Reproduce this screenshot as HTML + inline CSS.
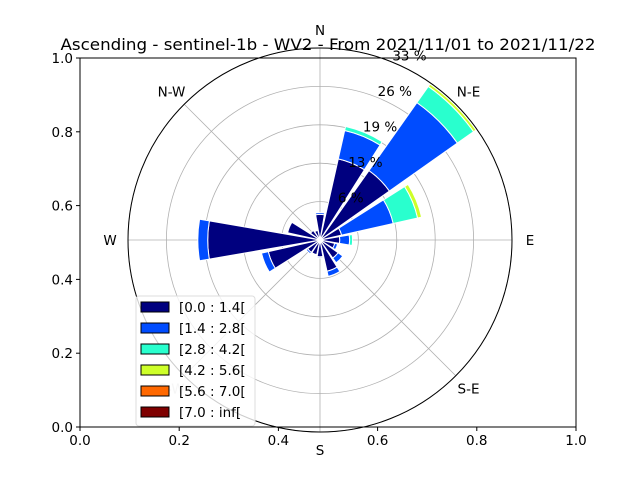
<!DOCTYPE html>
<html><head><meta charset="utf-8"><style>
body{margin:0;background:#fff}
svg{display:block;font-family:"DejaVu Sans","Liberation Sans",sans-serif}
</style></head><body>
<svg id="c" width="640" height="480" viewBox="0 0 640 480">
<rect width="640" height="480" fill="#fff"/>
<g id="polar"></g>
<g id="bars"></g>
<g id="labels"></g>
<g id="frame"></g>
<text x="328" y="50" font-size="16.2" text-anchor="middle" textLength="535" lengthAdjust="spacingAndGlyphs">Ascending - sentinel-1b - WV2 - From 2021/11/01 to 2021/11/22</text>
<g id="legend"></g>
</svg>
<script>
const directions = ["N","NNE","NE","ENE","E","ESE","SE","SSE","S","SSW","SW","WSW","W","WNW","NW","NNW"];
const bin0 = [4.4,14.3,14.6,3.8,3.4,2.6,3.8,5.5,2.9,2.6,2.6,9.1,19.3,5.7,2.0,1.7];
const bin1 = [0.3,5.0,14.3,9.1,1.7,0.5,1.0,0.9,0.2,0.1,0.3,1.2,1.7,0,0,0];
const bin2 = [0,0.7,3.4,4.3,0.5,0,0,0,0,0,0,0,0,0,0,0];
const bin3 = [0,0,0.5,0.7,0,0,0,0,0,0,0,0,0,0,0,0];
const bin4 = [0,0,0,0,0,0,0,0,0,0,0,0,0,0,0,0];
const bin5 = [0,0,0,0,0,0,0,0,0,0,0,0,0,0,0,0];
const binLabels = ["[0.0 : 1.4[","[1.4 : 2.8[","[2.8 : 4.2[","[4.2 : 5.6[","[5.6 : 7.0[","[7.0 : inf["];
const ringTicks = ["6 %","13 %","19 %","26 %","33 %"];
const ringValues = [6.6,13.2,19.8,26.4,33];
const xTicks = ["0.0","0.2","0.4","0.6","0.8","1.0"];
const yTicks = ["0.0","0.2","0.4","0.6","0.8","1.0"];
const compass = ["N","N-E","E","S-E","S","S-W","W","N-W"];
const colors = ["#00007f","#004cff","#29ffce","#ceff29","#ff6800","#7f0000"];
const bins=[bin0,bin1,bin2,bin3,bin4,bin5];
const NS="http://www.w3.org/2000/svg";
const cx=320,cy=240,R=192,rmax=33;
const rs=v=>v/rmax*R;
function mk(t,a,p){const e=document.createElementNS(NS,t);for(const k in a)e.setAttribute(k,a[k]);p.appendChild(e);return e;}
function pt(bear,r){const a=bear*Math.PI/180;return [cx+r*Math.sin(a),cy-r*Math.cos(a)];}
// polar
const po=document.getElementById('polar');
mk('circle',{cx:cx,cy:cy,r:R,fill:'#fff',stroke:'none'},po);
ringValues.forEach(v=>{let c=mk('circle',{cx:cx,cy:cy,r:rs(v),fill:'none',stroke:'#b0b0b0','stroke-width':0.8},po);
 });
for(let k=0;k<8;k++){const p=pt(k*45,R);mk('line',{x1:cx,y1:cy,x2:p[0],y2:p[1],stroke:'#b0b0b0','stroke-width':0.8},po);}
// bars
const bg=document.getElementById('bars');
const half=9.8;
directions.forEach((d,i)=>{let base=0;const b=i*22.5;
 bins.forEach((arr,j)=>{const v=arr[i];if(v<=0)return;const r0=rs(base),r1=rs(base+v);base+=v;
  const a=pt(b-half,r0),bb=pt(b-half,r1),c=pt(b+half,r1),dd=pt(b+half,r0);
  const p=mk('path',{d:`M${a[0]},${a[1]}L${bb[0]},${bb[1]}A${r1},${r1} 0 0 1 ${c[0]},${c[1]}L${dd[0]},${dd[1]}`+(r0>0?`A${r0},${r0} 0 0 0 ${a[0]},${a[1]}Z`:'Z'),fill:colors[j],stroke:'#fff','stroke-width':1},bg);
  
  
 });});
mk('circle',{cx:cx,cy:cy,r:R,fill:'none',stroke:'#000','stroke-width':1},bg);
// labels
const lb=document.getElementById('labels');
compass.forEach((t,k)=>{const p=pt(k*45,R+18);
 let tx=mk('text',{x:p[0],y:p[1]+5,'font-size':13.5,'text-anchor':'middle',fill:t==='S-W'?'#ccc':'#000'},lb);tx.textContent=t;
 });
ringValues.forEach((v,i)=>{const p=pt(22.5,rs(v));
 let tx=mk('text',{x:p[0]+16,y:p[1]-2,'font-size':13.5,'text-anchor':'middle'},lb);tx.textContent=ringTicks[i];
 });
// frame
const fr=document.getElementById('frame');
const X0=80,X1=576,Y0=58,Y1=427;
let e=mk('rect',{x:X0,y:Y0,width:X1-X0,height:Y1-Y0,fill:'none',stroke:'#000','stroke-width':1},fr);

xTicks.forEach((t,i)=>{const x=X0+i*(X1-X0)/5;
 mk('line',{x1:x,y1:Y1,x2:x,y2:Y1+4,stroke:'#000'},fr);
 let tx=mk('text',{x:x,y:Y1+18,'font-size':13.5,'text-anchor':'middle'},fr);tx.textContent=t;
 });
yTicks.forEach((t,i)=>{const y=Y1-i*(Y1-Y0)/5;
 mk('line',{x1:X0-4,y1:y,x2:X0,y2:y,stroke:'#000'},fr);
 let tx=mk('text',{x:X0-7,y:y+5,'font-size':13.5,'text-anchor':'end'},fr);tx.textContent=t;
 });
// legend
const lg=document.getElementById('legend');
mk('rect',{x:136,y:296,width:119,height:130,rx:3,fill:'#fff','fill-opacity':0.8,stroke:'#ddd'},lg);
binLabels.forEach((t,i)=>{const y=307+i*21;
 let r=mk('rect',{x:141,y:y-5,width:28,height:10,fill:colors[i],stroke:'#000','stroke-width':1},lg);
 
 let tx=mk('text',{x:179,y:y+5,'font-size':13.5},lg);tx.textContent=t;
 });
</script>
</body></html>
